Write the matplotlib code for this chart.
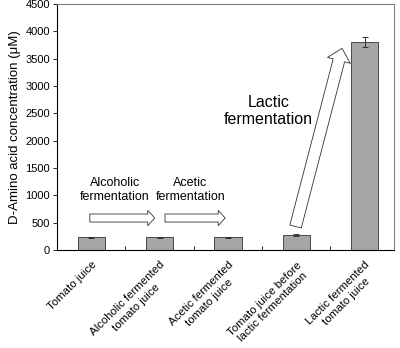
import matplotlib
matplotlib.use("Agg")
import matplotlib.pyplot as plt
import numpy as np

plt.rcParams['font.family'] = ['Liberation Sans', 'DejaVu Sans']

# data
categories = ["Tomato juice",
              "Alcoholic fermented\ntomato juice",
              "Acetic fermented\ntomato juice",
              "Tomato juice before\nlactic fermentation",
              "Lactic fermented\ntomato juice"]
values = [235, 235, 235, 280, 3810]
errors = [8, 8, 8, 15, 95]
y_ticks = [0, 500, 1000, 1500, 2000, 2500, 3000, 3500, 4000, 4500]

fig = plt.figure(figsize=(4, 3.48), dpi=100)
ax = fig.add_axes([0.1425, 0.2816, 0.8425, 0.7069])

x = np.arange(len(categories))
ax.bar(x, values, width=0.4, color='#a6a6a6', edgecolor='#333333', linewidth=0.6,
       yerr=errors, error_kw=dict(ecolor='#333333', elinewidth=0.7, capsize=2.5, capthick=0.7))

ax.set_xlim(-0.5, 4.43)
ax.set_ylim(0, 4500)
ax.set_yticks(y_ticks)
ax.tick_params(axis='y', direction='out', length=3, width=0.6, labelsize=8, pad=2)

ax.set_xticks(x)
ax.set_xticklabels(categories, rotation=45, ha='right', va='top', linespacing=1.25,
                   rotation_mode='anchor', multialignment='center', fontsize=8.2)
ax.tick_params(axis='x', which='major', length=0, pad=7)
ax.set_xticks(x[:-1] + 0.5, minor=True)
ax.tick_params(axis='x', which='minor', direction='in', length=3, width=0.6)

ax.set_ylabel("D-Amino acid concentration (\u03bcM)", fontsize=9.5, labelpad=3)

for side in ['left', 'bottom']:
    ax.spines[side].set_linewidth(0.8)
for side in ['top', 'right']:
    ax.spines[side].set_color('#808080')
    ax.spines[side].set_linewidth(0.8)

# process arrows
small = 'simple,head_length=5,head_width=11,tail_width=5.8'
ax.annotate('', xy=(0.93, 585), xytext=(-0.02, 585),
            arrowprops=dict(arrowstyle=small, mutation_scale=1, fc='white', ec='#333333',
                            lw=0.6, shrinkA=0, shrinkB=0))
ax.annotate('', xy=(1.96, 585), xytext=(1.08, 585),
            arrowprops=dict(arrowstyle=small, mutation_scale=1, fc='white', ec='#333333',
                            lw=0.6, shrinkA=0, shrinkB=0))
ax.annotate('', xy=(3.67, 3690), xytext=(2.99, 430),
            arrowprops=dict(arrowstyle='simple,head_length=9,head_width=17,tail_width=8.5',
                            mutation_scale=1, fc='white', ec='#333333',
                            lw=0.6, shrinkA=0, shrinkB=0))

ax.text(0.35, 1100, "Alcoholic\nfermentation", ha='center', va='center', fontsize=9,
        linespacing=1.25)
ax.text(1.45, 1100, "Acetic\nfermentation", ha='center', va='center', fontsize=9,
        linespacing=1.25)
ax.text(2.59, 2540, "Lactic\nfermentation", ha='center', va='center', fontsize=11.5,
        linespacing=1.2)

fig.savefig("out.png", dpi=100)
